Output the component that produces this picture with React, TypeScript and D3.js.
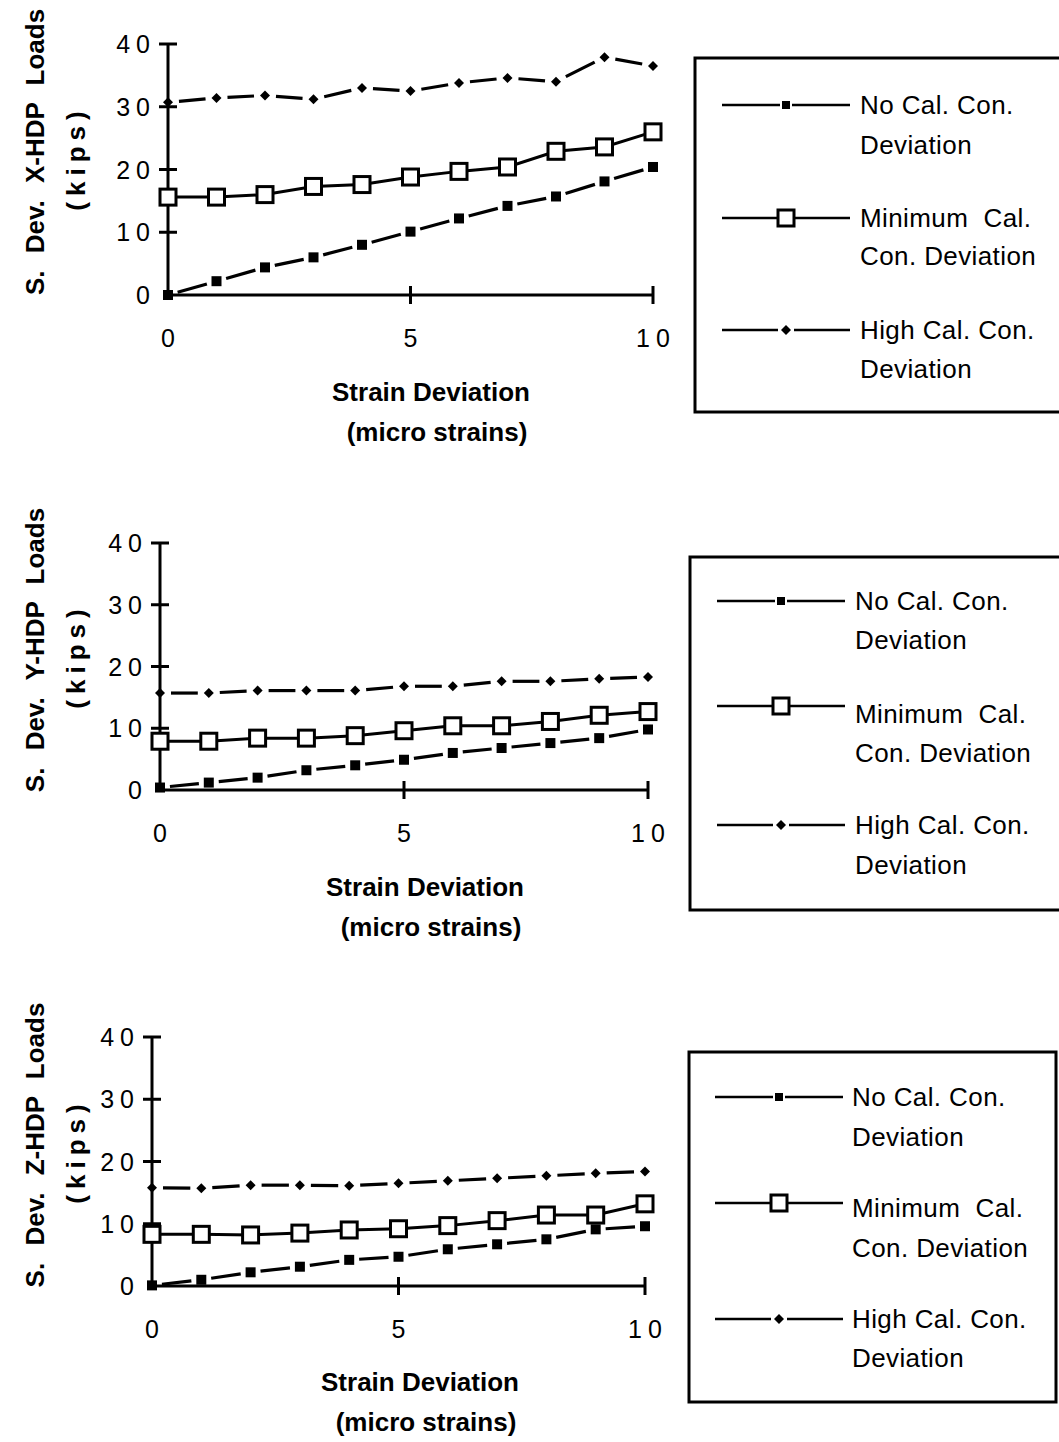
import React from 'react';
import * as d3 from 'd3';

// strain deviation (micro strains) on the x axis
const strainSteps = [0, 1, 2, 3, 4, 5, 6, 7, 8, 9, 10];
const xTicks = [0, 5, 10];
const yTicks = [0, 10, 20, 30, 40];

// S. Dev. X-HDP loads (kips)
const xNoCal = [0, 2.2, 4.4, 6.0, 8.0, 10.1, 12.2, 14.2, 15.7, 18.1, 20.4];
const xMinCal = [15.6, 15.6, 16.0, 17.3, 17.6, 18.8, 19.7, 20.4, 22.9, 23.6, 26.0];
const xHighCal = [30.7, 31.4, 31.8, 31.2, 33.0, 32.5, 33.8, 34.6, 34.0, 37.9, 36.5];

// S. Dev. Y-HDP loads (kips)
const yNoCal = [0.4, 1.2, 2.0, 3.2, 4.0, 4.9, 6.0, 6.8, 7.6, 8.4, 9.8];
const yMinCal = [7.9, 7.9, 8.4, 8.4, 8.8, 9.6, 10.4, 10.4, 11.1, 12.1, 12.7];
const yHighCal = [15.7, 15.7, 16.1, 16.1, 16.1, 16.8, 16.8, 17.6, 17.6, 18.0, 18.3];

// S. Dev. Z-HDP loads (kips)
const zNoCal = [0.1, 1.0, 2.2, 3.1, 4.2, 4.7, 5.9, 6.7, 7.5, 9.1, 9.6];
const zMinCal = [8.3, 8.3, 8.2, 8.5, 9.0, 9.2, 9.7, 10.5, 11.4, 11.4, 13.2];
const zHighCal = [15.8, 15.7, 16.2, 16.2, 16.1, 16.5, 16.9, 17.3, 17.7, 18.1, 18.4];

const legendLabels = [
  ['No Cal. Con.', 'Deviation'],
  ['Minimum\u00a0\u00a0Cal.', 'Con. Deviation'],
  ['High Cal. Con.', 'Deviation'],
];

const FONT = '"Liberation Sans", Arial, Helvetica, sans-serif';

const panels = [
  {
    axis: 'X', noCal: xNoCal, minCal: xMinCal, highCal: xHighCal,
    left: 168, right: 653, bottom: 295, top: 44, titleX: 431, titleY: 392, yTitleY: 152,
    legend: { x: 695, y: 58, w: 372, h: 354, lineX: 722, textX: 860, rows: [[105, 105, 145], [218, 218, 256], [330, 330, 369]] },
  },
  {
    axis: 'Y', noCal: yNoCal, minCal: yMinCal, highCal: yHighCal,
    left: 160, right: 648, bottom: 790, top: 543, titleX: 425, titleY: 887, yTitleY: 650,
    legend: { x: 690, y: 557, w: 377, h: 353, lineX: 717, textX: 855, rows: [[601, 601, 640], [706, 714, 753], [825, 825, 865]] },
  },
  {
    axis: 'Z', noCal: zNoCal, minCal: zMinCal, highCal: zHighCal,
    left: 152, right: 645, bottom: 1286, top: 1037, titleX: 420, titleY: 1382, yTitleY: 1145,
    legend: { x: 689, y: 1052, w: 367, h: 350, lineX: 715, textX: 852, rows: [[1097, 1097, 1137], [1203, 1208, 1248], [1319, 1319, 1358]] },
  },
];

// dashed series: one dash per segment, broken near each marker
const Segments = ({ pts, gap }) => (
  <g>
    {d3.pairs(pts).map(([a, b], i) => {
      const dx = b[0] - a[0];
      const dy = b[1] - a[1];
      const len = Math.hypot(dx, dy);
      const ux = dx / len;
      const uy = dy / len;
      return (
        <line key={i} x1={a[0] + ux * gap} y1={a[1] + uy * gap} x2={b[0] - ux * gap} y2={b[1] - uy * gap}
          stroke="#000" strokeWidth={3.2} />
      );
    })}
  </g>
);

const Panel = ({ p }) => {
  const x = d3.scaleLinear().domain([0, 10]).range([p.left, p.right]);
  const y = d3.scaleLinear().domain([0, 40]).range([p.bottom, p.top]);
  const ptsOf = (vals) => strainSteps.map((s, i) => [x(s), y(vals[i])]);
  const noCal = ptsOf(p.noCal);
  const minCal = ptsOf(p.minCal);
  const highCal = ptsOf(p.highCal);
  const line = d3.line();
  const lg = p.legend;
  const tickSpacing = 6;

  return (
    <g fontFamily={FONT}>
      {/* y axis */}
      <line x1={p.left} x2={p.left} y1={y(0) + 2} y2={y(40)} stroke="#000" strokeWidth={3} />
      {yTicks.filter(t => t > 0).map(t => (
        <line key={t} x1={p.left - 9} x2={p.left + 9} y1={y(t)} y2={y(t)} stroke="#000" strokeWidth={3} />
      ))}
      {yTicks.map(t => (
        <text key={t} x={p.left - 18 + (t > 0 ? tickSpacing : 0)} y={y(t)} dy="0.36em" textAnchor="end" fontSize={25}
          letterSpacing={t > 0 ? tickSpacing : 0}>
          {t}
        </text>
      ))}
      {/* x axis */}
      <line x1={p.left} x2={p.right} y1={y(0)} y2={y(0)} stroke="#000" strokeWidth={3} />
      {xTicks.filter(t => t > 0).map(t => (
        <line key={t} x1={x(t)} x2={x(t)} y1={y(0) - 9} y2={y(0) + 9} stroke="#000" strokeWidth={3} />
      ))}
      {xTicks.map(t => (
        <text key={t} x={x(t) + (t >= 10 ? tickSpacing / 2 : 0)} y={y(0) + 43} dy="0.36em" textAnchor="middle" fontSize={25}
          letterSpacing={t >= 10 ? tickSpacing : 0}>
          {t}
        </text>
      ))}
      <text x={p.titleX} y={p.titleY} dy="0.36em" textAnchor="middle" fontSize={26} fontWeight="bold">Strain Deviation</text>
      <text x={p.titleX + 6} y={p.titleY + 40} dy="0.36em" textAnchor="middle" fontSize={26} fontWeight="bold">(micro strains)</text>
      <text transform={`translate(35,${p.yTitleY}) rotate(-90)`} dy="0.36em" textAnchor="middle" fontSize={26}
        fontWeight="bold" wordSpacing={10}>
        {`S. Dev. ${p.axis}-HDP Loads`}
      </text>
      <text transform={`translate(76,${p.yTitleY + 6}) rotate(-90)`} dy="0.36em" textAnchor="middle" fontSize={26}
        fontWeight="bold" letterSpacing={6}>
        (kips)
      </text>

      {/* series */}
      <Segments pts={highCal} gap={11} />
      {highCal.map((d, i) => (
        <path key={i} d={`M${d[0]},${d[1] - 5}L${d[0] + 5},${d[1]}L${d[0]},${d[1] + 5}L${d[0] - 5},${d[1]}Z`} fill="#000" />
      ))}
      <path d={line(minCal)} fill="none" stroke="#000" strokeWidth={3} />
      {minCal.map((d, i) => (
        <rect key={i} x={d[0] - 8} y={d[1] - 8} width={16} height={16} fill="#fff" stroke="#000" strokeWidth={3} />
      ))}
      <Segments pts={noCal} gap={10} />
      {noCal.map((d, i) => (
        <rect key={i} x={d[0] - 5} y={d[1] - 5} width={10} height={10} fill="#000" />
      ))}

      {/* legend */}
      <rect x={lg.x} y={lg.y} width={lg.w} height={lg.h} fill="none" stroke="#000" strokeWidth={3} />
      {lg.rows.map(([ly, t1, t2], i) => {
        const mx = lg.lineX + 64;
        return (
          <g key={i}>
            <line x1={lg.lineX} x2={lg.lineX + 128} y1={ly} y2={ly} stroke="#000" strokeWidth={2.5} />
            {i === 0 && <rect x={mx - 5} y={ly - 5} width={10} height={10} fill="#000" stroke="#fff" strokeWidth={2} />}
            {i === 1 && <rect x={mx - 8} y={ly - 8} width={16} height={16} fill="#fff" stroke="#000" strokeWidth={3} />}
            {i === 2 && (
              <g>
                <line x1={mx - 8} x2={mx + 8} y1={ly} y2={ly} stroke="#fff" strokeWidth={4} />
                <path d={`M${mx},${ly - 5}L${mx + 5},${ly}L${mx},${ly + 5}L${mx - 5},${ly}Z`} fill="#000" />
              </g>
            )}
            <text x={lg.textX} y={t1} dy="0.36em" fontSize={26} letterSpacing={0.4}>{legendLabels[i][0]}</text>
            <text x={lg.textX} y={t2} dy="0.36em" fontSize={26} letterSpacing={0.4}>{legendLabels[i][1]}</text>
          </g>
        );
      })}
    </g>
  );
};

export default function App() {
  return (
    <svg width={1059} height={1442} style={{ position: 'absolute', left: 0, top: 0, background: '#fff' }}>
      <rect width={1059} height={1442} fill="#fff" />
      {panels.map(p => <Panel key={p.axis} p={p} />)}
    </svg>
  );
}
